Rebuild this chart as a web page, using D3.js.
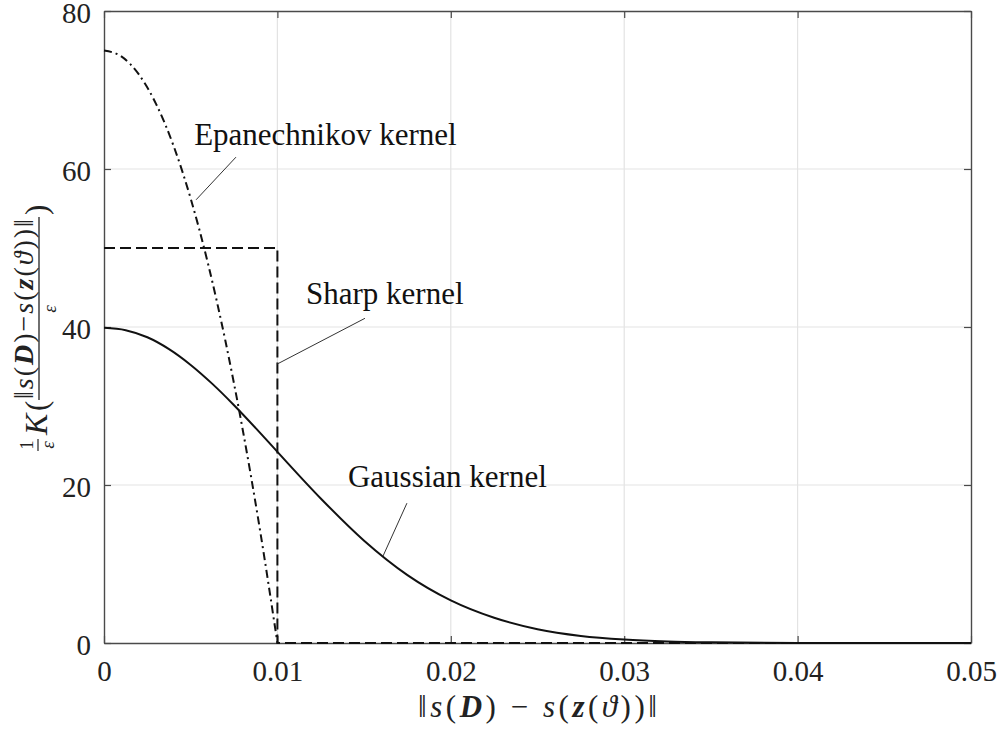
<!DOCTYPE html>
<html>
<head>
<meta charset="utf-8">
<script src="https://cdn.jsdelivr.net/npm/d3@7"></script>
<style>
  body { margin: 0; background: #fff; }
  svg { display: block; font-family: "Liberation Serif", "Times New Roman", serif; }
</style>
</head>
<body>
<div id="chart"></div>
<script>
// values
var xTicks = [0, 0.01, 0.02, 0.03, 0.04, 0.05];
var yTicks = [0, 20, 40, 60, 80];
var xTickLabels = ["0", "0.01", "0.02", "0.03", "0.04", "0.05"];
var yTickLabels = ["0", "20", "40", "60", "80"];

var gaussX = [0, 0.00125, 0.0025, 0.00375, 0.005, 0.00625, 0.0075, 0.00875, 0.01, 0.0125, 0.015, 0.0175, 0.02, 0.0225, 0.025, 0.0275, 0.03, 0.0325, 0.035, 0.04, 0.045, 0.05];
var gaussY = [39.9, 39.6, 38.7, 37.2, 35.2, 32.8, 30.1, 27.2, 24.2, 18.3, 12.95, 8.6, 5.4, 3.2, 1.75, 0.9, 0.44, 0.2, 0.09, 0.01, 0, 0];

var epanX = [0, 0.001, 0.002, 0.003, 0.004, 0.005, 0.006, 0.007, 0.008, 0.009, 0.01];
var epanY = [75, 74.25, 72, 68.25, 63, 56.25, 48, 38.25, 27, 14.25, 0];

var sharpX = [0, 0.01, 0.01, 0.05];
var sharpY = [50, 50, 0, 0];

// annotation: label, text anchor point, leader start, leader end (data units)
var annLabels = ["Epanechnikov kernel", "Sharp kernel", "Gaussian kernel"];
var annText = [[0.0052, 63.0], [0.01165, 42.9], [0.01407, 19.75]];
var annFrom = [[0.00761, 61.5], [0.01505, 41.1], [0.01747, 17.7]];
var annTo = [[0.00531, 56.1], [0.00998, 35.3], [0.01609, 11.0]];

var width = 1001, height = 731;
var margin = {left: 104, right: 30, top: 11, bottom: 88};

var svg = d3.select("#chart").append("svg")
    .attr("width", width)
    .attr("height", height);

var x = d3.scaleLinear().domain([0, 0.05]).range([margin.left, width - margin.right]);
var y = d3.scaleLinear().domain([0, 80]).range([height - margin.bottom, margin.top]);

// grid
svg.append("g").selectAll("line.gx")
    .data(xTicks.slice(1, -1))
    .enter().append("line")
    .attr("x1", function(d) { return x(d); })
    .attr("x2", function(d) { return x(d); })
    .attr("y1", y(0)).attr("y2", y(80))
    .attr("stroke", "#e3e3e3").attr("stroke-width", 1.2);
svg.append("g").selectAll("line.gy")
    .data(yTicks.slice(1, -1))
    .enter().append("line")
    .attr("x1", x(0)).attr("x2", x(0.05))
    .attr("y1", function(d) { return y(d); })
    .attr("y2", function(d) { return y(d); })
    .attr("stroke", "#e3e3e3").attr("stroke-width", 1.2);

// axes with inward ticks
var axisColor = "#4a4a4a";
var gBottom = svg.append("g")
    .attr("transform", "translate(0," + y(0) + ")")
    .call(d3.axisBottom(x).tickValues(xTicks).tickSizeInner(-7).tickSizeOuter(0)
        .tickPadding(35).tickFormat(function(d, i) { return xTickLabels[i]; }));
var gLeft = svg.append("g")
    .attr("transform", "translate(" + x(0) + ",0)")
    .call(d3.axisLeft(y).tickValues(yTicks).tickSizeInner(-7).tickSizeOuter(0)
        .tickPadding(13).tickFormat(function(d, i) { return yTickLabels[i]; }));
var gTop = svg.append("g")
    .attr("transform", "translate(0," + y(80) + ")")
    .call(d3.axisTop(x).tickValues(xTicks).tickSizeInner(-7).tickSizeOuter(0).tickFormat(""));
var gRight = svg.append("g")
    .attr("transform", "translate(" + x(0.05) + ",0)")
    .call(d3.axisRight(y).tickValues(yTicks).tickSizeInner(-7).tickSizeOuter(0).tickFormat(""));

[gBottom, gLeft, gTop, gRight].forEach(function(g) {
    g.select(".domain").attr("stroke", axisColor).attr("stroke-width", 1.4);
    g.selectAll(".tick line").attr("stroke", axisColor).attr("stroke-width", 1.2);
    g.selectAll(".tick text")
        .attr("fill", "#222")
        .style("font-family", "'Liberation Serif', serif")
        .style("font-size", "29px");
});
gBottom.selectAll(".tick text").attr("dy", "0.1em");
gLeft.selectAll(".tick text").attr("dy", "0.38em");

// curves
function pts(xs, ys) {
    return xs.map(function(v, i) { return [v, ys[i]]; });
}
var smooth = d3.line()
    .x(function(d) { return x(d[0]); })
    .y(function(d) { return y(d[1]); })
    .curve(d3.curveMonotoneX);
var straight = d3.line()
    .x(function(d) { return x(d[0]); })
    .y(function(d) { return y(d[1]); });

svg.append("path")
    .attr("d", straight(pts(sharpX, sharpY)))
    .attr("fill", "none").attr("stroke", "#111").attr("stroke-width", 2)
    .attr("stroke-dasharray", "11,5");
svg.append("path")
    .attr("d", smooth(pts(gaussX, gaussY)))
    .attr("fill", "none").attr("stroke", "#111").attr("stroke-width", 2);
svg.append("path")
    .attr("d", smooth(pts(epanX, epanY)))
    .attr("fill", "none").attr("stroke", "#111").attr("stroke-width", 2)
    .attr("stroke-dasharray", "8,4,2,4");

// annotations
annLabels.forEach(function(lab, i) {
    svg.append("text")
        .attr("x", x(annText[i][0])).attr("y", y(annText[i][1]))
        .attr("fill", "#111")
        .style("font-size", "31px")
        .text(lab);
    svg.append("line")
        .attr("x1", x(annFrom[i][0])).attr("y1", y(annFrom[i][1]))
        .attr("x2", x(annTo[i][0])).attr("y2", y(annTo[i][1]))
        .attr("stroke", "#333").attr("stroke-width", 1);
});

// x label
var xl = svg.append("text")
    .attr("x", (x(0) + x(0.05)) / 2).attr("y", 717)
    .attr("text-anchor", "middle")
    .attr("fill", "#222")
    .attr("textLength", 239).attr("lengthAdjust", "spacing")
    .style("font-size", "31px");
function addParts(t, parts) {
    parts.forEach(function(p) {
        var s = t.append("tspan").text(p[0]);
        if (p[1] === "i") s.style("font-style", "italic");
        if (p[1] === "bi") s.style("font-style", "italic").style("font-weight", "bold");
    });
}
addParts(xl, [["\u2016", ""], ["s", "i"], ["(", ""], ["D", "bi"], [") \u2212 ", ""], ["s", "i"], ["(", ""],
    ["z", "bi"], ["(", ""], ["\u03D1", "i"], ["))", ""], ["\u2016", ""]]);

// y label
var cy = (y(0) + y(80)) / 2;
var yl = svg.append("g")
    .attr("transform", "translate(39," + cy + ") rotate(-90)")
    .attr("fill", "#222");
yl.append("text").attr("x", -118).attr("y", -6).attr("text-anchor", "middle")
    .style("font-size", "19px").text("1");
yl.append("line").attr("x1", -124).attr("x2", -112).attr("y1", -1).attr("y2", -1)
    .attr("stroke", "#222").attr("stroke-width", 1.2);
yl.append("text").attr("x", -118).attr("y", 15).attr("text-anchor", "middle")
    .style("font-size", "19px").style("font-style", "italic").text("\u03B5");
yl.append("text").attr("x", -108).attr("y", 8)
    .style("font-size", "32px").style("font-style", "italic").text("K");
yl.append("text").attr("x", -84).attr("y", 8)
    .style("font-size", "31px").text("(");
var num = yl.append("text").attr("x", 18).attr("y", -6).attr("text-anchor", "middle")
    .attr("textLength", 180).attr("lengthAdjust", "spacing")
    .style("font-size", "28px");
addParts(num, [["\u2016", ""], ["s", "i"], ["(", ""], ["D", "bi"], [")\u2212", ""], ["s", "i"], ["(", ""],
    ["z", "bi"], ["(", ""], ["\u03D1", "i"], ["))", ""], ["\u2016", ""]]);
yl.append("line").attr("x1", -73).attr("x2", 110).attr("y1", 0).attr("y2", 0)
    .attr("stroke", "#222").attr("stroke-width", 1.3);
yl.append("text").attr("x", 18).attr("y", 17).attr("text-anchor", "middle")
    .style("font-size", "19px").style("font-style", "italic").text("\u03B5");
yl.append("text").attr("x", 112).attr("y", 8)
    .style("font-size", "31px").text(")");
</script>
</body>
</html>
